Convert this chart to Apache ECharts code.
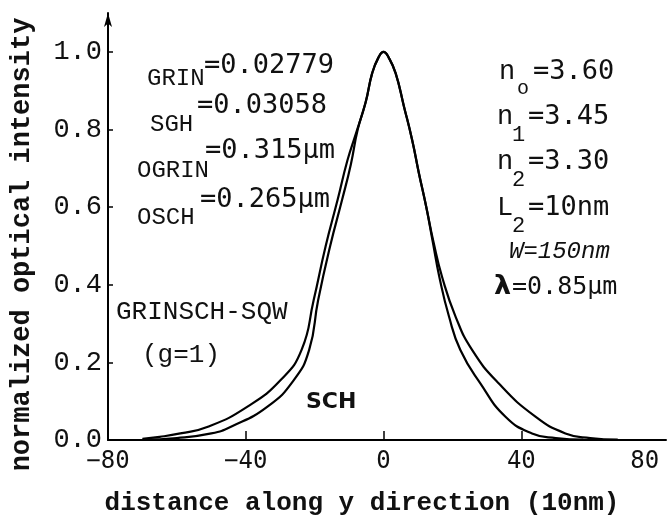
<!DOCTYPE html>
<html>
<head>
<meta charset="utf-8">
<script src="https://cdn.jsdelivr.net/npm/echarts@6/dist/echarts.min.js"></script>
<style>html,body{margin:0;padding:0;background:#fff}#c{width:668px;height:522px}</style>
</head>
<body>
<div id="c"></div>
<script>
// x tick labels and y tick labels
const xTicks = [-80, -40, 0, 40, 80];
const yTicks = [0.0, 0.2, 0.4, 0.6, 0.8, 1.0];

// GRINSCH-SQW (outer, wider) curve
const grinX = [-70, -65, -59, -51, -39.5, -29.8, -23.8, -20.3, -16.8, -13.3, -10.5, -8, -5.2, -3.3, -1.5, 0, 1.5, 3.5, 5.9, 8.3, 10.2, 12.4, 14.5, 17, 20.9, 25.7, 33.4, 44.1, 52.8, 60, 68];
const grinY = [0.003, 0.008, 0.017, 0.034, 0.086, 0.155, 0.232, 0.36, 0.5, 0.62, 0.72, 0.79, 0.87, 0.945, 0.985, 1.0, 0.985, 0.945, 0.86, 0.773, 0.69, 0.6, 0.51, 0.42, 0.318, 0.232, 0.146, 0.06, 0.017, 0.005, 0.001];

// SCH (inner, narrower) curve
const schX = [-70, -60, -50, -44.3, -33.7, -26, -21.6, -19, -15.5, -12, -9.5, -7.5, -5.2, -3.3, -1.5, 0, 1.5, 3.5, 5.9, 8.3, 10.2, 12.4, 14.3, 16.2, 19, 22.3, 28.1, 35.4, 43.1, 50, 58];
const schY = [0.001, 0.005, 0.017, 0.034, 0.086, 0.155, 0.232, 0.36, 0.5, 0.62, 0.71, 0.80, 0.87, 0.945, 0.985, 1.0, 0.985, 0.945, 0.86, 0.773, 0.69, 0.6, 0.51, 0.42, 0.318, 0.232, 0.146, 0.06, 0.017, 0.005, 0.001];

const pair = (xs, ys) => xs.map((x, i) => [x, ys[i]]);

const chart = echarts.init(document.getElementById('c'), null, {renderer: 'canvas'});
const mono = '"Liberation Mono", "DejaVu Sans Mono", monospace';
const sansMono = '"DejaVu Sans Mono", monospace';

function txt(s, x, y, size, opts) {
  opts = opts || {};
  return {
    type: 'text', x: x, y: y, z: 100,
    style: {
      text: s, fill: '#111',
      font: (opts.style || 'normal') + ' ' + (opts.weight || 'normal') + ' ' + size + 'px ' + (opts.family || mono),
      textVerticalAlign: 'middle', textAlign: opts.align || 'left'
    }
  };
}

chart.setOption({
  animation: false,
  backgroundColor: '#fff',
  grid: {left: 108, right: 2, top: 13, bottom: 82, containLabel: false, outerBoundsMode: 'none'},
  xAxis: {
    type: 'value', min: -80, max: 82, interval: 40,
    axisLine: {show: true, onZero: false, lineStyle: {color: '#000', width: 2}},
    axisTick: {show: true, inside: true, length: 9, customValues: xTicks.slice(1, 4), lineStyle: {color: '#000', width: 1.5}},
    splitLine: {show: false},
    axisLabel: {
      margin: 10, color: '#111', fontSize: 24, fontFamily: sansMono,
      customValues: xTicks, alignMaxLabel: 'right',
      formatter: v => xTicks.indexOf(v) >= 0 ? String(v).replace('-', '\u2212') : ''
    },
    name: 'distance along y direction (10nm)',
    nameLocation: 'middle', nameGap: 50,
    nameTextStyle: {color: '#111', fontSize: 26, fontWeight: 'bold', fontFamily: mono, padding: [0, 50, 0, 0]}
  },
  yAxis: {
    type: 'value', min: 0, max: 1.1, interval: 0.2,
    axisLine: {show: true, onZero: false, lineStyle: {color: '#000', width: 2}, symbol: ['none', 'arrow'], symbolSize: [6, 14]},
    axisTick: {show: true, inside: true, length: 5, customValues: yTicks.slice(1), lineStyle: {color: '#000', width: 1.5}},
    splitLine: {show: false},
    axisLabel: {
      margin: 6, color: '#111', fontSize: 27, fontFamily: mono,
      customValues: yTicks,
      formatter: v => {
        const ok = yTicks.some(t => Math.abs(t - v) < 1e-6);
        return ok ? v.toFixed(1) : '';
      }
    },
    name: 'normalized optical intensity',
    nameLocation: 'middle', nameGap: 72, nameRotate: 90,
    nameTextStyle: {color: '#111', fontSize: 27, fontWeight: 'bold', fontFamily: mono, padding: [0, 36, 0, 0]}
  },
  series: [
    {
      name: 'GRINSCH-SQW', type: 'line', data: pair(grinX, grinY),
      smooth: 0.5, showSymbol: false,
      lineStyle: {color: '#000', width: 2.2}
    },
    {
      name: 'SCH', type: 'line', data: pair(schX, schY),
      smooth: 0.5, showSymbol: false,
      lineStyle: {color: '#000', width: 2.2}
    }
  ],
  graphic: [
    txt('GRIN', 147, 79, 24),
    txt('=0.02779', 204, 66, 27, {family: sansMono}),
    txt('SGH', 150, 125, 24),
    txt('=0.03058', 197, 106, 27, {family: sansMono}),
    txt('OGRIN', 137, 171, 24),
    txt('=0.315\u03bcm', 205, 151, 27, {family: sansMono}),
    txt('OSCH', 137, 218, 24),
    txt('=0.265\u03bcm', 200, 200, 27, {family: sansMono}),

    txt('n', 499, 72, 27),
    txt('o', 517, 89, 20),
    txt('=3.60', 533, 72, 27, {family: sansMono}),
    txt('n', 497, 117, 27),
    txt('1', 512, 135, 22),
    txt('=3.45', 528, 117, 27, {family: sansMono}),
    txt('n', 497, 162, 27),
    txt('2', 512, 180, 22),
    txt('=3.30', 528, 162, 27, {family: sansMono}),
    txt('L', 497, 208, 27),
    txt('2', 512, 226, 22),
    txt('=10nm', 528, 208, 27, {family: sansMono}),
    txt('W=150nm', 509, 252, 24, {style: 'italic'}),
    txt('\u03bb', 494, 287, 27, {weight: 'bold', family: '"DejaVu Sans", sans-serif'}),
    txt('=0.85\u03bcm', 512, 287, 25, {family: sansMono}),

    txt('GRINSCH-SQW', 116, 312, 26),
    txt('(g=1)', 142, 355, 26),
    txt('SCH', 306, 402, 22, {weight: 'bold', family: '"DejaVu Sans", sans-serif'})
  ]
});
</script>
</body>
</html>
